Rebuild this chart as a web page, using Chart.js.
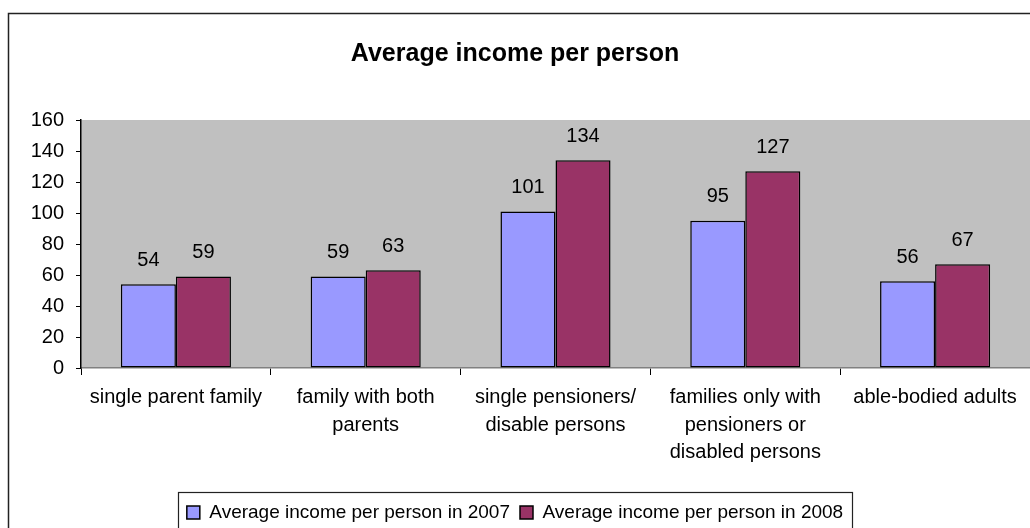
<!DOCTYPE html>
<html>
<head>
<meta charset="utf-8">
<title>Average income per person</title>
<script src="https://cdn.jsdelivr.net/npm/chart.js@4/dist/chart.umd.min.js"></script>
<style>
  html, body { margin: 0; padding: 0; background: #fff; }
  #wrap { width: 1030px; height: 528px; position: relative; }
</style>
</head>
<body>
<div id="wrap"><canvas id="income-chart"></canvas></div>
<script>
const categories = [
    'single parent family',
    ['family with both', 'parents'],
    ['single pensioners/', 'disable persons'],
    ['families only with', 'pensioners or', 'disabled persons'],
    'able-bodied adults'
];
const income2007 = [54, 59, 101, 95, 56];
const income2008 = [59, 63, 134, 127, 67];
const seriesNames = ['Average income per person in 2007', 'Average income per person in 2008'];
const yTicks = [0, 20, 40, 60, 80, 100, 120, 140, 160];

const FONT = "'Liberation Sans', Arial, sans-serif";

// grey plot background + outer frame
const frame = {
    id: 'frame',
    beforeDraw(chart) {
        const { ctx, chartArea: a } = chart;
        ctx.save();
        ctx.fillStyle = '#C0C0C0';
        ctx.fillRect(a.left, a.top, a.right - a.left, a.bottom - a.top);
        ctx.strokeStyle = '#222';
        ctx.lineWidth = 1.5;
        ctx.beginPath();
        ctx.moveTo(8.5, chart.height + 2);
        ctx.lineTo(8.5, 13.5);
        ctx.lineTo(chart.width + 2, 13.5);
        ctx.stroke();
        ctx.restore();
    },
    afterDraw(chart) {
        // box round the legend
        const boxes = chart.legend.legendHitBoxes;
        if (!boxes || !boxes.length) return;
        const left = boxes[0].left - 9;
        const last = boxes[boxes.length - 1];
        const right = last.left + last.width + 9;
        const top = boxes[0].top - 11.5;
        const ctx = chart.ctx;
        ctx.save();
        ctx.strokeStyle = '#222';
        ctx.lineWidth = 1.2;
        ctx.strokeRect(Math.round(left) + 0.5, Math.round(top) + 0.5, Math.round(right - left), chart.height);
        ctx.restore();
    }
};

// value above each bar
const valueLabels = {
    id: 'valueLabels',
    afterDatasetsDraw(chart) {
        const ctx = chart.ctx;
        ctx.save();
        ctx.font = '20px ' + FONT;
        ctx.fillStyle = '#000';
        ctx.textAlign = 'center';
        ctx.textBaseline = 'middle';
        chart.data.datasets.forEach((ds, i) => {
            chart.getDatasetMeta(i).data.forEach((bar, j) => {
                ctx.fillText(ds.data[j], bar.x, bar.y - 24);
            });
        });
        ctx.restore();
    }
};

new Chart(document.getElementById('income-chart').getContext('2d'), {
    type: 'bar',
    data: {
        labels: categories,
        datasets: [{
            label: seriesNames[0],
            data: income2007,
            backgroundColor: '#9999FF',
            borderColor: '#000',
            borderWidth: 1.5,
            borderSkipped: false
        }, {
            label: seriesNames[1],
            data: income2008,
            backgroundColor: '#993366',
            borderColor: '#000',
            borderWidth: 1.5,
            borderSkipped: false
        }]
    },
    options: {
        responsive: true,
        maintainAspectRatio: false,
        animation: false,
        datasets: { bar: { categoryPercentage: 0.58, barPercentage: 1 } },
        layout: { padding: { top: 39, left: 0, right: 0, bottom: -4 } },
        plugins: {
            tooltip: { enabled: false },
            title: {
                display: true,
                text: 'Average income per person',
                color: '#000',
                font: { family: FONT, size: 25, weight: 'bold', lineHeight: 1.2 },
                padding: { top: 0, bottom: 51 }
            },
            legend: {
                position: 'bottom',
                labels: {
                    color: '#000',
                    font: { family: FONT, size: 19 },
                    boxWidth: 13,
                    boxHeight: 13,
                    padding: 10
                }
            }
        },
        scales: {
            x: {
                grid: { display: true, drawOnChartArea: false, drawTicks: true, tickLength: 7, color: '#000', offset: true },
                border: { display: true, color: '#808080', width: 1.5 },
                ticks: { color: '#000', font: { family: FONT, size: 20, lineHeight: 1.375 }, padding: 9, maxRotation: 0, autoSkip: false },
                afterFit(scale) { scale.height = 125; }
            },
            y: {
                min: 0,
                max: 160,
                afterBuildTicks(scale) { scale.ticks = yTicks.map(v => ({ value: v })); },
                grid: { display: true, drawOnChartArea: false, drawTicks: true, tickLength: 5, color: '#000' },
                border: { display: true, color: '#000', width: 1.5 },
                ticks: { color: '#000', font: { family: FONT, size: 20 }, padding: 12 },
                afterFit(scale) { scale.width = 81; }
            }
        }
    },
    plugins: [frame, valueLabels]
});
</script>
</body>
</html>
